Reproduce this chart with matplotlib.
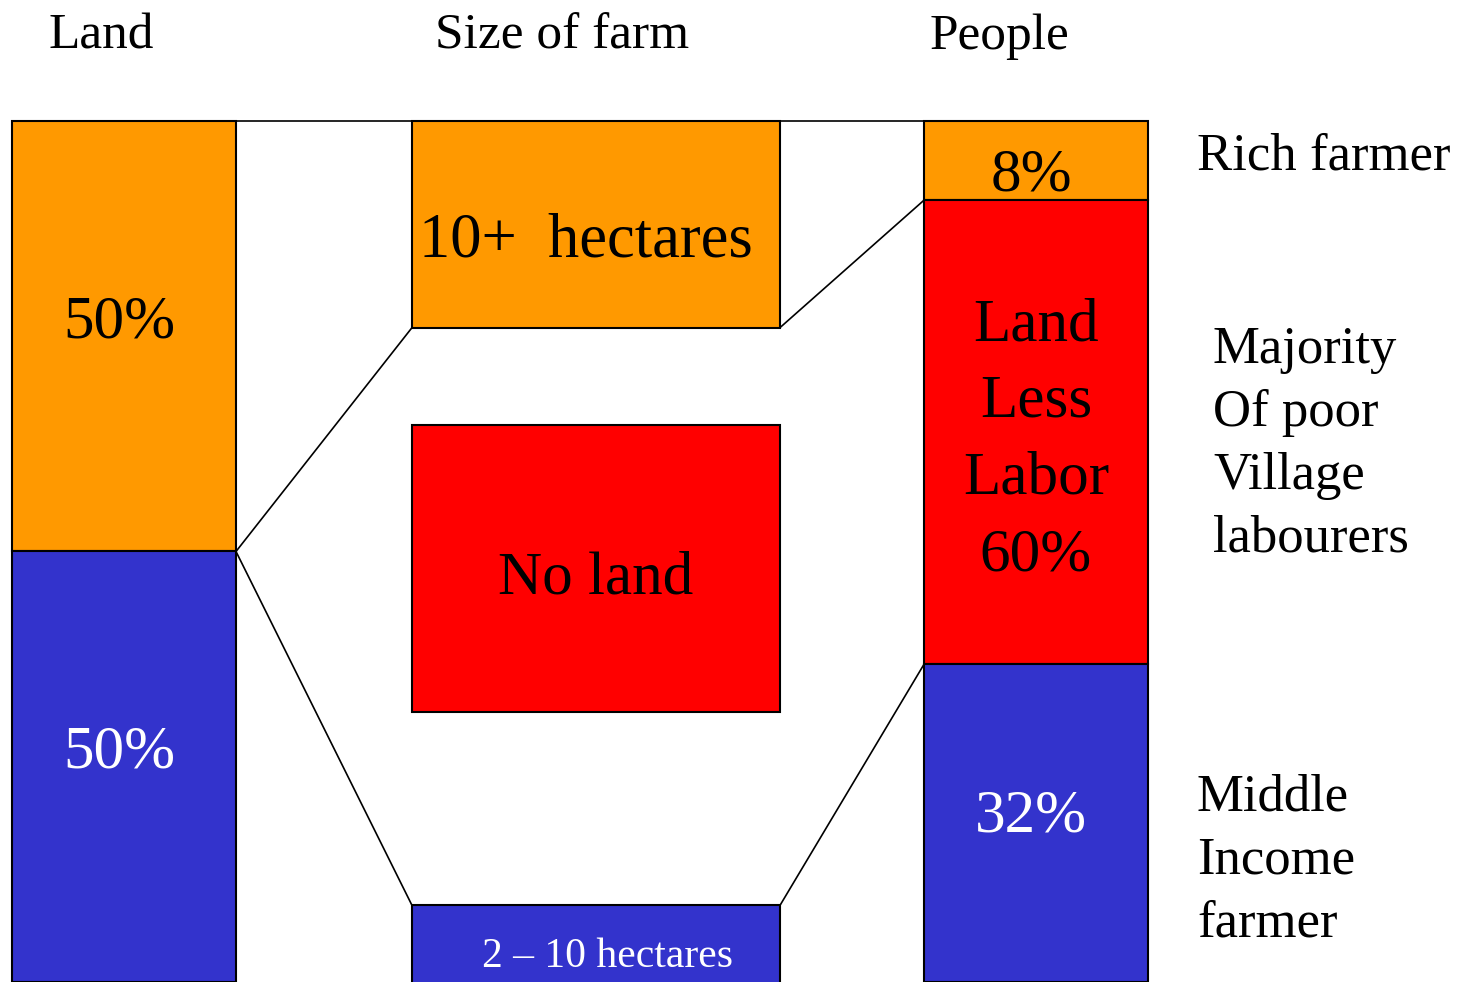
import numpy as np
import matplotlib
matplotlib.use("Agg")
import matplotlib.pyplot as plt

# land held by each group (drawn as equal halves)
land_labels = ["50%", "50%"]
land_share = [50, 50]

# farm size boxes (top, height) on the 0-100 column scale
farm_labels = ["10+  hectares", "No land", "2 \u2013 10 hectares"]
farm_top = [0, 35.3, 91.1]
farm_height = [24.0, 33.4, 12.0]

# people segments, heights as drawn in the picture
people_labels = ["8%", "Land\nLess\nLabor\n60%", "32%"]
people_height = [9.2, 53.9, 36.9]

headers = ["Land", "Size of farm", "People"]
side_labels = ["Rich farmer", "Majority\nOf poor\nVillage\nlabourers",
               "Middle\nIncome\nfarmer"]

orange = "#FF9900"
red = "#FF0000"
blue = "#3333CC"

col_x = [124, 596, 1036]
col_w = [224, 368, 224]

plt.rcParams['font.family'] = ['Liberation Serif', 'DejaVu Serif']

fig = plt.figure(figsize=(14.59, 9.82), dpi=100)
ax = fig.add_axes([0, 0, 1, 1])
ax.set_xlim(0, 1459)
ax.set_ylim(100, -14.05)
ax.axis('off')

# land column
ax.bar(col_x[0], land_share[0], bottom=0, width=col_w[0], color=orange,
       edgecolor='k', linewidth=1.5, align='center')
ax.bar(col_x[0], land_share[1], bottom=land_share[0], width=col_w[0],
       color=blue, edgecolor='k', linewidth=1.5)
ax.text(col_x[0] - 5, 23.4, land_labels[0], ha='center', va='center',
        fontsize=44, color='k')
ax.text(col_x[0] - 5, 73.4, land_labels[1], ha='center', va='center',
        fontsize=44, color='white')

# farm size column
farm_colors = [orange, red, blue]
ax.bar([col_x[1]] * 3, farm_height, bottom=farm_top, width=col_w[1],
       color=farm_colors, edgecolor='k', linewidth=1.5)
ax.text(586, 14.0, farm_labels[0], ha='center', va='center', fontsize=45)
ax.text(596, 53.2, farm_labels[1], ha='center', va='center', fontsize=44)
ax.text(607, 97.1, farm_labels[2], ha='center', va='center', fontsize=30,
        color='white')

# people column
people_bottom = np.concatenate([[0], np.cumsum(people_height)[:-1]])
ax.bar([col_x[2]] * 3, people_height, bottom=people_bottom, width=col_w[2],
       color=[orange, red, blue], edgecolor='k', linewidth=1.5)
ax.text(1031, 6.4, people_labels[0], ha='center', va='center', fontsize=44)
ax.text(1036, 37.1, people_labels[1], ha='center', va='center', fontsize=44,
        linespacing=1.5)
ax.text(1031, 80.8, people_labels[2], ha='center', va='center', fontsize=44,
        color='white')

# connector lines
land_right = col_x[0] + col_w[0] / 2
farm_left = col_x[1] - col_w[1] / 2
farm_right = col_x[1] + col_w[1] / 2
people_left = col_x[2] - col_w[2] / 2
people_right = col_x[2] + col_w[2] / 2
ax.plot([col_x[0] - col_w[0] / 2, people_right], [0, 0], color='k', lw=1.2)
ax.plot([land_right, farm_left], [land_share[0], farm_top[0] + farm_height[0]],
        color='k', lw=1.2)
ax.plot([land_right, farm_left], [land_share[0], farm_top[2]], color='k', lw=1.2)
ax.plot([farm_right, people_left], [farm_top[0] + farm_height[0], people_height[0]],
        color='k', lw=1.2)
ax.plot([farm_right, people_left], [farm_top[2], people_height[0] + people_height[1]],
        color='k', lw=1.2)

# headers
for x, h in zip([101, 562, 999], headers):
    ax.text(x, -9.8, h, ha='center', va='center', fontsize=37)

# side labels
ax.text(1197, 4.1, side_labels[0], ha='left', va='center', fontsize=38)
ax.text(1213, 37.6, side_labels[1], ha='left', va='center', fontsize=38,
        linespacing=1.4)
ax.text(1197, 85.9, side_labels[2], ha='left', va='center', fontsize=38,
        linespacing=1.4)

fig.savefig("out.png", dpi=100)
